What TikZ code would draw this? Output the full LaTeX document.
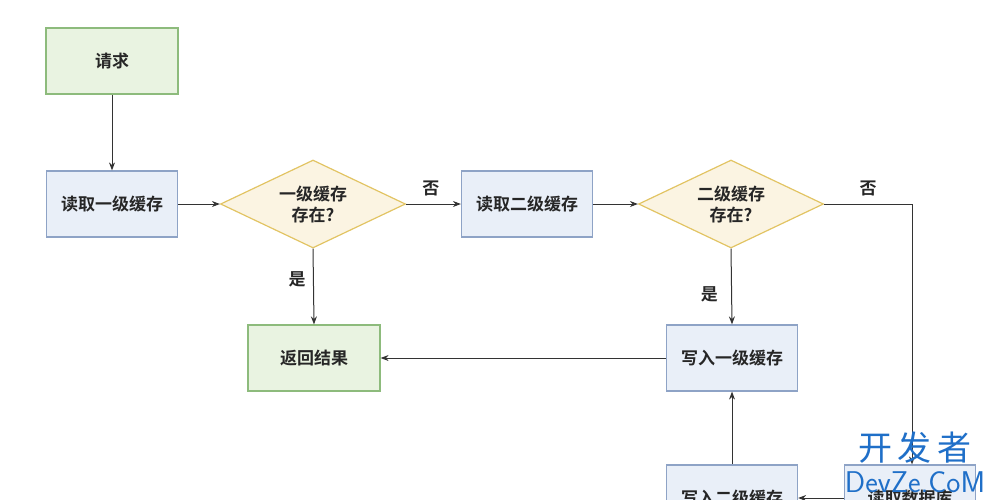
\documentclass[tikz,border=0pt]{standalone}
\usepackage{fontspec}
\newfontfamily\cjk{Noto Sans CJK SC}[BoldFont=* Bold]
\usetikzlibrary{shapes.geometric,arrows.meta,patterns}
\definecolor{gfill}{HTML}{E9F3E1}\definecolor{gdraw}{HTML}{8DBB7C}
\definecolor{bfill}{HTML}{E9EFF8}\definecolor{bdraw}{HTML}{8EA3C6}
\definecolor{yfill}{HTML}{FBF4E2}\definecolor{ydraw}{HTML}{E2C463}
\definecolor{wm}{HTML}{1F6FC8}
\begin{document}
\begin{tikzpicture}[x=1pt,y=-1pt,
  every node/.style={font=\cjk\bfseries\fontsize{17}{20}\selectfont,text=black!85},
  gbox/.style={draw=gdraw,fill=gfill,line width=1.2pt,minimum width=132pt,minimum height=66pt},
  bbox/.style={draw=bdraw,fill=bfill,line width=1.2pt,minimum width=131pt,minimum height=66pt},
  dia/.style={diamond,draw=ydraw,fill=yfill,line width=1.2pt,minimum width=185pt,minimum height=88pt,aspect=2.1,inner sep=0pt,align=center,font=\cjk\bfseries\fontsize{17}{21}\selectfont},
  arr/.style={-{Stealth[length=8pt,width=6pt]},line width=1pt,draw=black!80},
  lbl/.style={font=\cjk\bfseries\fontsize{17}{20}\selectfont}]
\useasboundingbox (0,0) rectangle (1000,499);
\clip (0,0) rectangle (1000,499);
\node[gbox] (req) at (112,61) {请求};
\node[bbox] (r1) at (112,204) {读取一级缓存};
\node[dia] (d1) at (313,204) {一级缓存\\存在?};
\node[bbox] (r2) at (527,204) {读取二级缓存};
\node[dia] (d2) at (731,204) {二级缓存\\存在?};
\node[gbox] (ret) at (314,358) {返回结果};
\node[bbox] (w1) at (732,358) {写入一级缓存};
\node[bbox] (w2) at (732,498) {写入二级缓存};
\node[bbox] (db) at (910,498) {读取数据库};
\coordinate (c1) at (912,204);
\draw[arr] (req) -- (r1);
\draw[arr] (r1) -- (d1);
\draw[arr] (d1) -- node[lbl,above,pos=0.45,yshift=4pt]{否} (r2);
\draw[arr] (r2) -- (d2);
\draw[arr] (d1.south) -- node[lbl,left,pos=0.4,xshift=-4pt]{是} (ret.north);
\draw[arr] (d2.south) -- node[lbl,left,pos=0.6,xshift=-10pt]{是} (w1.north);
\draw[arr] (w1) -- (ret);
\draw[arr] (w2) -- (w1);
\draw[arr] (d2.east) -- node[lbl,above,pos=0.5,yshift=4pt]{否} (c1) -- (c1 |- db.north);
\draw[arr] (db) -- (w2);
\node[text=wm,font=\cjk\fontsize{34}{34}\selectfont] (wm1) at (915,448) {开\,发\,者};
\node[text=wm,font=\fontsize{30}{30}\selectfont\sffamily] (wm2) at (915,482) {DevZe.CoM};
\end{tikzpicture}
\end{document}
